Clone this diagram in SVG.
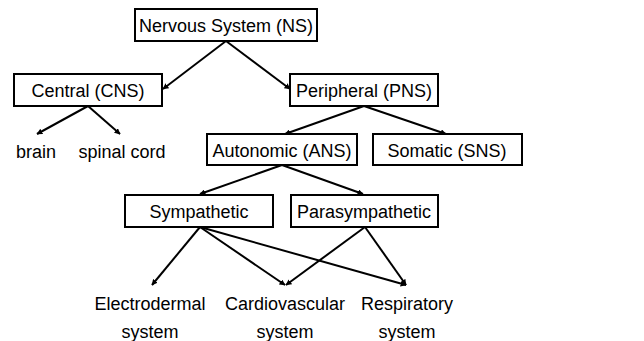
<svg xmlns="http://www.w3.org/2000/svg" width="644" height="341" viewBox="0 0 644 341">
<defs>
<marker id="ah" viewBox="0 0 10 10" refX="9" refY="5" markerWidth="6" markerHeight="6" orient="auto" markerUnits="userSpaceOnUse">
<path d="M0,0 L10,5 L0,10 z" fill="#000"/>
</marker>
<style>
.box{fill:#fff;stroke:#000;stroke-width:2}
.t{font-family:"Liberation Sans",Arial,sans-serif;font-size:18px;fill:#000;text-anchor:middle}
.c line{stroke:#000;stroke-width:2;marker-end:url(#ah)}
</style>
</defs>
<rect width="644" height="341" fill="#fff"/>
<g class="c" id="connectors">
<line x1="226" y1="41" x2="163" y2="89"/>
<line x1="226" y1="41" x2="290" y2="89"/>
<line x1="88" y1="106" x2="37" y2="134"/>
<line x1="88" y1="106" x2="120" y2="134"/>
<line x1="364" y1="106" x2="285" y2="134"/>
<line x1="364" y1="106" x2="446" y2="134"/>
<line x1="282" y1="165" x2="200" y2="194"/>
<line x1="282" y1="165" x2="363" y2="194"/>
<line x1="200" y1="227" x2="152" y2="285"/>
<line x1="200" y1="227" x2="285" y2="285"/>
<line x1="200" y1="227" x2="406" y2="285"/>
<line x1="365" y1="227" x2="286" y2="285"/>
<line x1="365" y1="227" x2="406" y2="285"/>
</g>
<g id="ns"><rect class="box" x="135" y="9" width="182" height="32"/><text class="t" x="226" y="32">Nervous System (NS)</text></g>
<g id="cns"><rect class="box" x="14" y="74" width="148" height="32"/><text class="t" x="88" y="97">Central (CNS)</text></g>
<g id="pns"><rect class="box" x="290" y="74" width="148" height="32"/><text class="t" x="364" y="97">Peripheral (PNS)</text></g>
<g id="brain"><text class="t" x="36" y="158">brain</text></g>
<g id="spinal"><text class="t" x="122" y="158">spinal cord</text></g>
<g id="ans"><rect class="box" x="207" y="134" width="150" height="31"/><text class="t" x="282" y="157">Autonomic (ANS)</text></g>
<g id="sns"><rect class="box" x="373" y="134" width="149" height="31"/><text class="t" x="447" y="157">Somatic (SNS)</text></g>
<g id="symp"><rect class="box" x="125" y="195" width="148" height="32"/><text class="t" x="199" y="218">Sympathetic</text></g>
<g id="para"><rect class="box" x="291" y="195" width="147" height="32"/><text class="t" x="364" y="218">Parasympathetic</text></g>
<g id="electro"><text class="t" x="150" y="310">Electrodermal</text><text class="t" x="150" y="338">system</text></g>
<g id="cardio"><text class="t" x="285" y="310">Cardiovascular</text><text class="t" x="285" y="338">system</text></g>
<g id="resp"><text class="t" x="407" y="310">Respiratory</text><text class="t" x="407" y="338">system</text></g>
</svg>
